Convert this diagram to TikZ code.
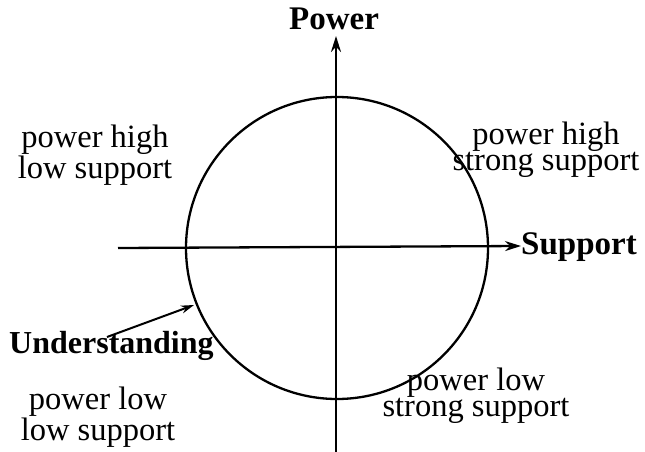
\documentclass[tikz,border=0pt]{standalone}
\usepackage{fontspec}
\setmainfont{Liberation Serif}
\usetikzlibrary{arrows.meta}
\tikzset{
  axis/.style={line width=2.3pt, -{Stealth[length=16pt,width=10pt]}},
  ring/.style={line width=2.3pt},
  quad/.style={font=\fontsize{32.5}{26}\selectfont, align=center, inner sep=0pt},
  axlabel/.style={font=\fontsize{33}{33}\selectfont\bfseries, inner sep=0pt},
}
\begin{document}
\begin{tikzpicture}[x=1pt,y=-1pt]
\useasboundingbox (0,0) rectangle (645,452);
\coordinate (center) at (337,248);
\draw[ring] (center) circle[radius=151pt];
\coordinate (vbot) at (336,452);
\coordinate (vtop) at (336,36);
\coordinate (hleft) at (118,248);
\coordinate (hright) at (521,246);
\draw[axis] (vbot) -- (vtop);
\draw[axis] (hleft) -- (hright);
\node[axlabel, anchor=base] (power) at (334,30) {Power};
\node[axlabel, anchor=base west] (support) at (521,254) {Support};
\node[axlabel, font=\fontsize{32}{32}\selectfont\bfseries, anchor=base west] (underst) at (9,353) {Understanding};
\coordinate (ustart) at (107,337);
\coordinate (utip) at (194,305);
\draw[line width=2pt, -{Stealth[length=13pt,width=8pt]}] (ustart) -- (utip);
\node[quad] (tl) at (95,155) {power high\\low support};
\node[quad] (tr) at (546,150) {power high\\strong support};
\node[quad] (bl) at (98,417) {power low\\low support};
\node[quad] (br) at (476,396) {power low\\strong support};
\end{tikzpicture}
\end{document}
